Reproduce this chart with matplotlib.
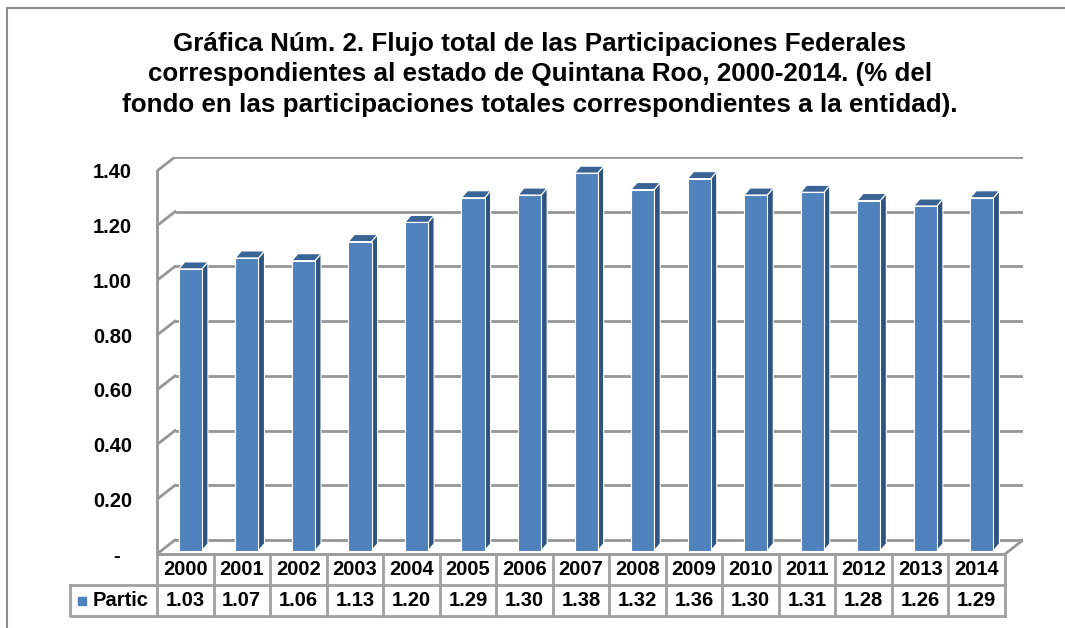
import matplotlib
matplotlib.use("Agg")
import matplotlib.pyplot as plt
from matplotlib.patches import Polygon, Rectangle
from matplotlib.ticker import FuncFormatter
import numpy as np

plt.rcParams['font.family'] = ['Liberation Sans', 'DejaVu Sans']
plt.rcParams['font.weight'] = 'bold'

# datos
anios = ['2000', '2001', '2002', '2003', '2004', '2005', '2006', '2007',
         '2008', '2009', '2010', '2011', '2012', '2013', '2014']
partic = [1.03, 1.07, 1.06, 1.13, 1.20, 1.29, 1.30, 1.38,
          1.32, 1.36, 1.30, 1.31, 1.28, 1.26, 1.29]
marcas = [0.0, 0.2, 0.4, 0.6, 0.8, 1.0, 1.2, 1.4]
serie = 'Partic'
titulo = ("Gráfica Núm. 2. Flujo total de las Participaciones Federales\n"
          "correspondientes al estado de Quintana Roo, 2000-2014. (% del\n"
          "fondo en las participaciones totales correspondientes a la entidad).")

# efecto 3d (profundidad de las paredes y de las barras)
DX, DY = 0.318, 0.051
BX, BY = 0.09, 0.012
ANCHO = 0.41
PX, PY = 0.106, 0.0256

c_frente = '#4F81BD'
c_lado = '#2F5380'
c_tapa = '#3A6396'
c_rejilla = '#969696'
fs = 14.5

fig = plt.figure(figsize=(10.65, 6.28), dpi=100)
ax = fig.add_axes([157 / 1065, 1 - 554 / 628, 866 / 1065, 397 / 628])
n = len(anios)
x = np.arange(n)
ax.set_xlim(-0.5, n - 0.5 + DX)
ax.set_ylim(0, marcas[-1] + DY)

# marco exterior
fig.patches.append(Rectangle((7 / 1065, -0.1), 2, 1.1 - 8 / 628, transform=fig.transFigure,
                             fill=False, ec='#8C8C8C', lw=1.5))

# paredes: rejilla en la pared del fondo y diagonales en la pared izquierda
for m in marcas:
    ax.plot([-0.5 + DX, n - 0.5 + DX], [m + DY, m + DY], color=c_rejilla, lw=2, zorder=1,
            solid_capstyle='butt')
    ax.plot([-0.5, -0.5 + DX], [m, m + DY], color=c_rejilla, lw=2, zorder=1)
ax.plot([-0.5, -0.5], [0, marcas[-1]], color=c_rejilla, lw=2, zorder=1, clip_on=False)
# piso
ax.plot([n - 0.5, n - 0.5 + DX], [0, DY], color=c_rejilla, lw=2, zorder=1)
ax.plot([-0.5, n - 0.5], [0, 0], color=c_rejilla, lw=2, zorder=1, clip_on=False)

# barras
for i, v in enumerate(partic):
    x0 = i - ANCHO / 2 + BX
    x1 = x0 + ANCHO
    top = BY + v
    ax.add_patch(Polygon([[x1, BY], [x1 + PX, BY + PY], [x1 + PX, top + PY], [x1, top]],
                         closed=True, fc=c_lado, ec='white', lw=0.8, zorder=3))
    ax.add_patch(Polygon([[x0, top], [x0 + PX, top + PY], [x1 + PX, top + PY], [x1, top]],
                         closed=True, fc=c_tapa, ec='white', lw=0.8, zorder=3))
ax.bar(x + BX, partic, bottom=BY, width=ANCHO, color=c_frente, edgecolor='white',
       linewidth=0.8, zorder=4)

# eje y
ax.set_yticks(marcas)
ax.yaxis.set_major_formatter(FuncFormatter(lambda v, p: '-  ' if v == 0 else f'{v:.2f}'))
ax.tick_params(axis='y', length=0, pad=18, labelsize=fs)
ax.set_xticks([])
for s in ax.spines.values():
    s.set_visible(False)

# tabla de datos
tr = ax.get_xaxis_transform()
h = 31 / 397
c_tabla = '#A0A0A0'
for k in range(n + 1):
    ax.plot([k - 0.5, k - 0.5], [0, -2 * h], color=c_tabla, lw=2, transform=tr, clip_on=False)
for yy in [-h, -2 * h]:
    ax.plot([-0.5, n - 0.5], [yy, yy], color=c_tabla, lw=2, transform=tr, clip_on=False)
xl = -0.5 - 87 / 56.53
ax.plot([xl, xl, -0.5], [-h, -2 * h, -2 * h], color=c_tabla, lw=2, transform=tr, clip_on=False)
ax.plot([xl, -0.5], [-h, -h], color=c_tabla, lw=2, transform=tr, clip_on=False)
for i in range(n):
    ax.text(i, -h / 2, anios[i], transform=tr, ha='center', va='center', fontsize=fs)
    ax.text(i, -1.5 * h, f'{partic[i]:.2f}', transform=tr, ha='center', va='center', fontsize=fs)
ax.plot([xl + 12 / 56.53], [-1.5 * h], marker='s', ms=6, color=c_frente, transform=tr,
        clip_on=False)
ax.text(xl + 23 / 56.53, -1.5 * h, serie, transform=tr, ha='left', va='center', fontsize=fs)

fig.text(540 / 1065, 1 - 32 / 628, titulo, ha='center', va='top', fontsize=18.7,
         linespacing=1.33)

fig.savefig('out.png', dpi=100)
